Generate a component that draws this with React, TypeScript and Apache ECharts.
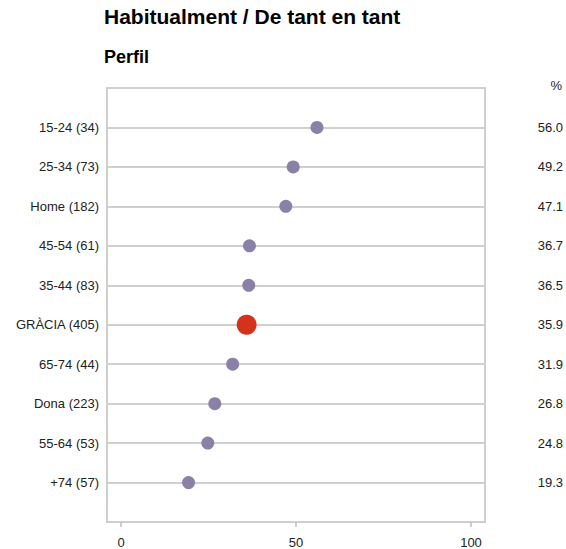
import React, { useEffect, useRef } from "react";
import * as echarts from "echarts";

const titleText = "Habitualment / De tant en tant";
const subtitleText = "Perfil";
const categories = [
  "15-24 (34)",
  "25-34 (73)",
  "Home (182)",
  "45-54 (61)",
  "35-44 (83)",
  "GRÀCIA (405)",
  "65-74 (44)",
  "Dona (223)",
  "55-64 (53)",
  "+74 (57)",
];
const values = [56.0, 49.2, 47.1, 36.7, 36.5, 35.9, 31.9, 26.8, 24.8, 19.3];
const highlight = "GRÀCIA (405)";
const xTicks = [0, 50, 100];

export default function App() {
  const ref = useRef<HTMLDivElement>(null);
  useEffect(() => {
    if (!ref.current) return;
    const chart = echarts.init(ref.current, null, { renderer: "svg" });
    const yCats = ["", ...categories, ""];
    const yRight = ["", ...values.map((v) => v.toFixed(1)), ""];
    const purple = categories
      .map((c, i) => (c === highlight ? null : [values[i], c]))
      .filter((d) => d !== null);
    const red = categories
      .map((c, i) => (c === highlight ? [values[i], c] : null))
      .filter((d) => d !== null);
    const font = "'Liberation Sans', Arial, Helvetica, sans-serif";
    chart.setOption({
      animation: false,
      textStyle: { fontFamily: font },
      title: [
        {
          text: titleText,
          left: 104,
          top: 6,
          padding: 0,
          textStyle: { fontSize: 21, fontWeight: "bold", color: "#000", fontFamily: font },
        },
        {
          text: subtitleText,
          left: 104,
          top: 48,
          padding: 0,
          textStyle: { fontSize: 18, fontWeight: "bold", color: "#000", fontFamily: font },
        },
      ],
      graphic: [
        {
          type: "text",
          right: 4,
          top: 79,
          style: { text: "%", fontSize: 13, fill: "#222", fontFamily: font },
        },
      ],
      grid: {
        left: 107,
        right: 81,
        top: 88,
        bottom: 27,
        show: true,
        borderColor: "#cfcfcf",
        borderWidth: 2,
        outerBoundsMode: "none",
      },
      xAxis: {
        type: "value",
        min: -4,
        max: 104,
        axisLine: { show: false },
        splitLine: { show: false },
        axisTick: {
          show: true,
          customValues: xTicks,
          length: 5,
          lineStyle: { color: "#bdbdbd", width: 1.5 },
        },
        axisLabel: {
          customValues: xTicks,
          margin: 15,
          fontSize: 13,
          lineHeight: 10,
          color: "#222",
          fontFamily: font,
        },
      },
      yAxis: [
        {
          type: "category",
          data: yCats,
          inverse: true,
          boundaryGap: false,
          axisLine: { show: false },
          axisTick: { show: false },
          splitLine: { show: true, lineStyle: { color: "#cfcfcf", width: 2 } },
          axisLabel: {
            margin: 8,
            fontSize: 13,
            color: "#222",
            fontFamily: font,
            interval: 0,
          },
        },
        {
          type: "category",
          data: yRight,
          inverse: true,
          boundaryGap: false,
          position: "right",
          axisLine: { show: false },
          axisTick: { show: false },
          splitLine: { show: false },
          axisLabel: {
            margin: 78,
            align: "right",
            fontSize: 13,
            color: "#222",
            fontFamily: font,
            interval: 0,
          },
        },
      ],
      series: [
        {
          type: "scatter",
          data: purple,
          symbolSize: 13,
          itemStyle: { color: "#8b80a5", opacity: 1 },
          z: 3,
        },
        {
          type: "scatter",
          data: red,
          symbolSize: 20,
          itemStyle: { color: "#d5321b", opacity: 1 },
          z: 4,
        },
      ],
    });
    return () => chart.dispose();
  }, []);
  return (
    <div
      ref={ref}
      style={{ position: "fixed", left: 0, top: 0, width: 566, height: 549, background: "#fff" }}
    />
  );
}
